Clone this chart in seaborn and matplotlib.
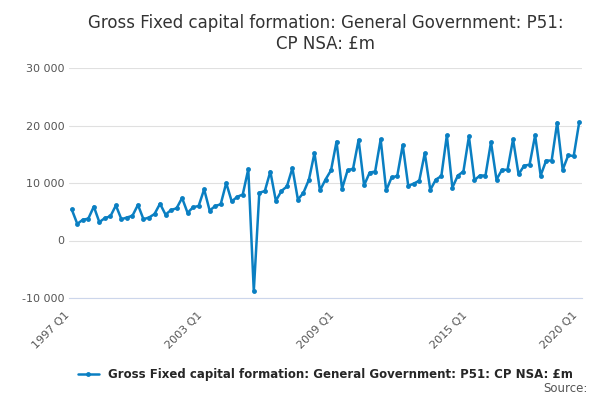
import numpy as np
import pandas as pd
import matplotlib
matplotlib.use("Agg")
import matplotlib.pyplot as plt
import seaborn as sns

# quarterly values, £m
values = [
    5400, 2900, 3600, 3800,
    5900, 3200, 3900, 4200,
    6100, 3700, 4000, 4300,
    6200, 3700, 4000, 4600,
    6400, 4500, 5300, 5600,
    7400, 4800, 5800, 6000,
    8900, 5200, 6000, 6300,
    10000, 6800, 7600, 8000,
    12400, -8800, 8300, 8600,
    12000, 6900, 8600, 9400,
    12600, 7100, 8300, 10600,
    15200, 8700, 10600, 12200,
    17200, 9000, 12200, 12500,
    17500, 9600, 11800, 12000,
    17600, 8700, 11000, 11200,
    16600, 9500, 9900, 10400,
    15200, 8800, 10600, 11200,
    18300, 9200, 11300, 12000,
    18100, 10500, 11300, 11300,
    17100, 10600, 12300, 12300,
    17600, 11500, 13000, 13200,
    18300, 11300, 13900, 13900,
    20500, 12300, 14800, 14700,
    20600,
]
quarters = [f"{1997 + i // 4} Q{i % 4 + 1}" for i in range(len(values))]
tick_labels = ["1997 Q1", "2003 Q1", "2009 Q1", "2015 Q1", "2020 Q1"]
series_name = "Gross Fixed capital formation: General Government: P51: CP NSA: £m"

df = pd.DataFrame({"idx": range(len(values)), "quarter": quarters, "value": values})

sns.set_style("white")
plt.rcParams["font.family"] = ["DejaVu Sans"]
fig, ax = plt.subplots(figsize=(6, 4), dpi=100)
color = "#0a7fc2"
sns.lineplot(data=df, x="idx", y="value", ax=ax, color=color, linewidth=1.8,
             marker="o", markersize=3.5, markeredgewidth=0, label=series_name)

ax.set_ylim(-10000, 30000)
ax.set_yticks([-10000, 0, 10000, 20000, 30000])
ax.set_yticklabels(["-10 000", "0", "10 000", "20 000", "30 000"], fontsize=8, color="#555555")
ax.yaxis.grid(True, color="#e0e0e0", linewidth=0.8)
ax.set_xlim(-0.5, len(values) - 0.5)
ax.set_xticks([quarters.index(t) for t in tick_labels])
ax.set_xticks(range(0, len(values), 4), minor=True)
ax.set_xticklabels(tick_labels, rotation=45, ha="right", fontsize=8, color="#555555")
ax.tick_params(axis="x", which="both", length=5, color="#ccd6eb")
ax.tick_params(axis="y", length=0)
for s in ["top", "right", "left"]:
    ax.spines[s].set_visible(False)
ax.spines["bottom"].set_color("#ccd6eb")
ax.set_xlabel("")
ax.set_ylabel("")
ax.set_title("Gross Fixed capital formation: General Government: P51:\nCP NSA: £m",
             fontsize=12, color="#333333", pad=14)
ax.legend(loc="upper center", bbox_to_anchor=(0.5, -0.26), frameon=False,
          prop={"size": 8.5, "weight": "bold"}, handlelength=1.8)
fig.text(0.98, 0.02, "Source:", ha="right", fontsize=8.5, color="#555555")
fig.subplots_adjust(left=0.115, right=0.97, top=0.83, bottom=0.255)
fig.savefig("out.png")
